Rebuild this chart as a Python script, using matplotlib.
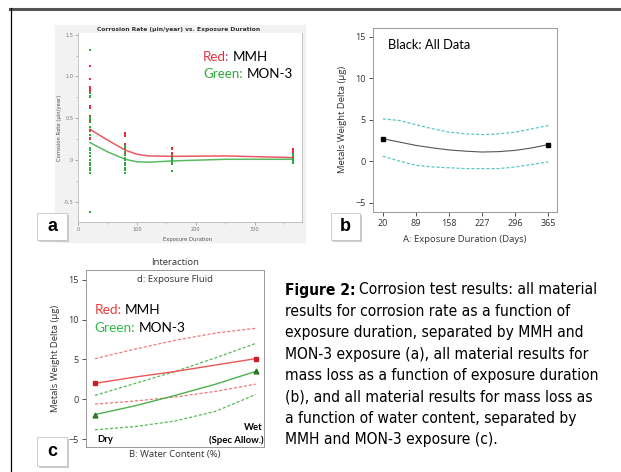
import os
import matplotlib
matplotlib.use("Agg")
import matplotlib.pyplot as plt
from matplotlib.patches import Rectangle
from matplotlib.lines import Line2D
from matplotlib import font_manager

W, H = 621, 472

# ---- panel a : corrosion rate vs exposure duration ----
a_red_x = [20]*14 + [80]*8 + [160]*5 + [365]*6
a_red_y = [1.13, 0.97, 0.87, 0.85, 0.83, 0.65, 0.62, 0.53, 0.51, 0.48, 0.35, 0.30, 0.27, 0.25,
           0.33, 0.31, 0.29, 0.19, 0.16, 0.13, 0.10, 0.08,
           0.15, 0.13, 0.09, 0.06, 0.04,
           0.13, 0.11, 0.08, 0.06, 0.04, 0.02]
a_green_x = [20]*21 + [80]*11 + [160]*7 + [365]*6
a_green_y = [1.32, 0.80, 0.77, 0.75, 0.52, 0.49, 0.45, 0.40, 0.36, 0.30, 0.15, 0.12, 0.08, 0.05,
             0.0, -0.03, -0.06, -0.09, -0.12, -0.16, -0.62,
             0.17, 0.14, 0.10, 0.06, 0.03, 0.0, -0.03, -0.06, -0.09, -0.12, -0.16,
             0.05, 0.03, 0.01, -0.01, -0.03, -0.05, -0.13,
             0.07, 0.05, 0.03, 0.01, -0.01, -0.03]
fit_x = [20, 50, 80, 100, 120, 160, 250, 365]
fit_red = [0.37, 0.24, 0.12, 0.07, 0.05, 0.045, 0.05, 0.03]
fit_green = [0.21, 0.10, 0.01, -0.02, -0.025, -0.01, 0.01, 0.01]

# ---- panel b : weight delta vs duration (all data) ----
b_x = [20, 55, 89, 124, 158, 193, 227, 262, 296, 331, 365]
b_mean = [2.7, 2.3, 1.9, 1.6, 1.35, 1.2, 1.1, 1.15, 1.3, 1.6, 2.0]
b_upper = [5.1, 4.9, 4.4, 3.9, 3.5, 3.3, 3.2, 3.3, 3.5, 3.9, 4.3]
b_lower = [0.6, 0.0, -0.5, -0.7, -0.8, -0.9, -0.9, -0.9, -0.7, -0.4, -0.1]
b_ticks = [20, 89, 158, 227, 296, 365]

# ---- panel c : interaction, water content ----
c_x = [0, 0.25, 0.5, 0.75, 1]
c_red = [2.0, 2.8, 3.5, 4.3, 5.1]
c_red_up = [5.1, 6.3, 7.4, 8.3, 8.9]
c_red_lo = [-0.6, -0.2, 0.3, 1.0, 1.9]
c_green = [-1.9, -0.8, 0.5, 1.9, 3.5]
c_green_up = [0.5, 2.0, 3.5, 5.2, 7.0]
c_green_lo = [-3.8, -3.4, -2.7, -1.5, 0.6]

caption = ["Corrosion test results: all material",
           "results for corrosion rate as a function of",
           "exposure duration, separated by MMH and",
           "MON-3 exposure (a), all material results for",
           "mass loss as a function of exposure duration",
           "(b), and all material results for mass loss as",
           "a function of water content, separated by",
           "MMH and MON-3 exposure (c)."]

RED = "#e4303c"
GREEN = "#2eaa3a"
LEG = ["Lato", "DejaVu Sans"]
UI = ["Open Sans", "DejaVu Sans"]

# caption font: a narrow sans if one is installed, else Liberation Sans
def narrow_fonts():
    out = []
    for f in font_manager.fontManager.ttflist:
        name = (f.name + " " + os.path.basename(f.fname)).lower()
        if not ("narrow" in name or "condensed" in name):
            continue
        if any(k in name for k in ["semi", "extra", "ultra", "mono", "serif", "italic", "oblique"]):
            continue
        if f.style != "normal":
            continue
        w = f.weight if isinstance(f.weight, int) else 400
        score = 0 if "liberation" in name else (1 if "arial" in name else (2 if "noto" in name else 3))
        out.append((score, w, f.fname, f.name))
    return sorted(out)

cands = narrow_fonts()
reg = [c for c in cands if 400 <= c[1] < 600]
if reg:
    cap_reg = font_manager.FontProperties(fname=reg[0][2])
    cap_bold = font_manager.FontProperties(family=reg[0][3], weight="bold", stretch="condensed")
else:
    cap_reg = font_manager.FontProperties(family="Liberation Sans")
    cap_bold = font_manager.FontProperties(family="Liberation Sans", weight="bold")

def rect(x0, y0, x1, y1):
    return [x0 / W, 1 - y1 / H, (x1 - x0) / W, (y1 - y0) / H]

fig = plt.figure(figsize=(W / 100, H / 100), dpi=100)
renderer = fig.canvas.get_renderer()

def ftext(x, y, s, **kw):
    return fig.text(x / W, 1 - y / H, s, **kw)

def seq_text(x, y, pieces, size, family, gap=0.28):
    for s, color in pieces:
        t = ftext(x, y, s, color=color, fontsize=size, family=family,
                  ha="left", va="center")
        x += t.get_window_extent(renderer).width + gap * size * 100 / 72

# frame lines
fig.add_artist(Line2D([10 / W, 1], [1 - 8.5 / H] * 2, color="#555555", lw=2.2))
fig.add_artist(Line2D([11 / W] * 2, [0, 1 - 8 / H], color="black", lw=0.9))

# panel a background
fig.add_artist(Rectangle((55 / W, 1 - 242 / H), 250 / W, 217 / H,
                         transform=fig.transFigure, color="#f2f2f2", zorder=0))

axa = fig.add_axes(rect(78, 33, 302, 222))
axa.scatter(a_red_x, a_red_y, s=4, marker="s", color=RED, lw=0, zorder=3)
axa.scatter(a_green_x, a_green_y, s=4, marker="s", color=GREEN, lw=0, zorder=3)
axa.plot(fit_x, fit_red, color=RED, lw=1.1, alpha=0.8, zorder=4)
axa.plot(fit_x, fit_green, color=GREEN, lw=1.1, alpha=0.8, zorder=4)
axa.set_xlim(0, 380)
axa.set_ylim(-0.74, 1.52)
axa.set_xticks([0, 100, 200, 300])
axa.set_xticks([50, 150, 250, 350], minor=True)
axa.set_yticks([-0.5, 0, 0.5, 1.0, 1.5])
axa.set_yticklabels(["-0.5", "0", "0.5", "1.0", "1.5"])
axa.set_yticks([-0.25, 0.25, 0.75, 1.25], minor=True)
axa.tick_params(labelsize=3.6, colors="#777777", length=2, width=0.4, pad=1.5)
axa.tick_params(which="minor", length=1.5, width=0.4, colors="#999999")
for side in ["left", "bottom", "right"]:
    axa.spines[side].set_color("#bbbbbb")
    axa.spines[side].set_linewidth(0.6)
axa.spines["top"].set_visible(False)
axa.set_ylabel("Corrosion Rate (µin/year)", fontsize=3.8, color="#555555")
axa.yaxis.set_label_coords(-0.071, 0.5)
axa.set_xlabel("Exposure Duration", fontsize=3.8, color="#555555")
axa.xaxis.set_label_coords(0.49, -0.079)
ftext(179, 29.5, "Corrosion Rate (µin/year) vs. Exposure Duration", fontsize=4.3,
      fontweight="bold", ha="center", va="center", color="#333333")
seq_text(203, 57, [("Red:", RED), ("MMH", "black")], 9.6, LEG)
seq_text(203, 74, [("Green:", GREEN), ("MON-3", "black")], 9.6, LEG)

# panel b
dash = (0, (2.5, 1.5))
axb = fig.add_axes(rect(372.7, 27.7, 557, 211.7))
axb.plot(b_x, b_upper, color="#5cc6c6", lw=0.9, ls=dash)
axb.plot(b_x, b_lower, color="#5cc6c6", lw=0.9, ls=dash)
axb.plot(b_x, b_mean, color="#555555", lw=0.8)
axb.plot([b_x[0], b_x[-1]], [b_mean[0], b_mean[-1]], ls="none", marker="s", ms=3.5, color="black")
axb.set_xlim(-1, 383)
axb.set_ylim(-6.1, 16.1)
axb.set_xticks(b_ticks)
axb.set_yticks([-5, 0, 5, 10, 15])
axb.tick_params(labelsize=6.5, colors="#333333", length=3, width=0.6, pad=2)
for s in axb.spines.values():
    s.set_color("#999999")
    s.set_linewidth(0.7)
for lab in axb.get_xticklabels() + axb.get_yticklabels():
    lab.set_family(UI)
axb.set_ylabel("Metals Weight Delta (µg)", fontsize=6.8, family=UI, color="#333333")
axb.yaxis.set_label_coords(-0.141, 0.5)
axb.set_xlabel("A: Exposure Duration (Days)", fontsize=6.8, family=UI, color="#333333")
axb.xaxis.set_label_coords(0.5, -0.125)
ftext(387.7, 45, "Black: All Data", fontsize=9.3, family=LEG, ha="left", va="center")

# panel c
axc = fig.add_axes(rect(85.7, 270, 264.3, 447.3))
axc.plot(c_x, c_red_up, color="#f07a7a", lw=0.9, ls=dash)
axc.plot(c_x, c_red_lo, color="#f07a7a", lw=0.9, ls=dash)
axc.plot(c_x, c_green_up, color="#5abb5a", lw=0.9, ls=dash)
axc.plot(c_x, c_green_lo, color="#5abb5a", lw=0.9, ls=dash)
axc.plot(c_x, c_red, color="#ee5555", lw=1.0)
axc.plot(c_x, c_green, color="#4cb04c", lw=1.0)
axc.plot([c_x[0], c_x[-1]], [c_red[0], c_red[-1]], ls="none", marker="s", ms=3.2, color="#c8202a")
axc.plot([c_x[0], c_x[-1]], [c_green[0], c_green[-1]], ls="none", marker="^", ms=3.5, color="#2a7a2a")
axc.set_xlim(-0.058, 1.054)
axc.set_ylim(-6.0, 16.2)
axc.set_xticks([])
axc.set_yticks([-5, 0, 5, 10, 15])
axc.tick_params(labelsize=6.5, colors="#333333", length=3, width=0.6, pad=2)
for s in axc.spines.values():
    s.set_color("#999999")
    s.set_linewidth(0.7)
for lab in axc.get_yticklabels():
    lab.set_family(UI)
axc.set_ylabel("Metals Weight Delta (µg)", fontsize=6.8, family=UI, color="#333333")
axc.yaxis.set_label_coords(-0.144, 0.5)
axc.set_xlabel("B: Water Content (%)", fontsize=6.8, family=UI, color="#333333", labelpad=2)
ftext(175, 262.7, "Interaction", fontsize=6.8, family=UI, ha="center", va="center", color="#333333")
ftext(175, 279, "d: Exposure Fluid", fontsize=6.8, family=UI, ha="center", va="center", color="#333333")
seq_text(94.3, 310, [("Red:", "#f03a3a"), ("MMH", "black")], 9.8, LEG)
seq_text(94.3, 328.3, [("Green:", "#33bb44"), ("MON-3", "black")], 9.8, LEG)
ftext(97, 440, "Dry", fontsize=6.8, family=LEG, fontweight="bold", ha="left", va="center")
ftext(263, 427.3, "Wet", fontsize=6.8, family=LEG, fontweight="bold", ha="right", va="center")
ftext(264, 440, "(Spec Allow.)", fontsize=6.8, family=LEG, fontweight="bold", ha="right", va="center")

# panel label boxes
for (x0, y0, x1, y1), letter in [((37, 213, 67, 240), "a"), ((331, 213, 360, 240), "b"),
                                 ((37, 437, 67, 466), "c")]:
    fig.add_artist(Rectangle(((x0 + 1.5) / W, 1 - (y1 + 2) / H), (x1 - x0) / W, (y1 - y0) / H,
                             transform=fig.transFigure, color="#cccccc", lw=0, zorder=5))
    fig.add_artist(Rectangle((x0 / W, 1 - y1 / H), (x1 - x0) / W, (y1 - y0) / H,
                             transform=fig.transFigure, facecolor="white", edgecolor="#bbbbbb",
                             lw=0.5, zorder=6))
    ftext((x0 + x1) / 2, (y0 + y1) / 2, letter, fontsize=13, fontweight="bold",
          family=["Liberation Sans", "DejaVu Sans"], ha="center", va="center", zorder=7)

# caption: size chosen so the longest line spans ~312 px, as in the figure
probe = ftext(0, 0, caption[4], fontproperties=cap_reg)
probe.set_fontsize(12.3)
wid = probe.get_window_extent(renderer).width
probe.remove()
cap_size = min(12.8, 12.3 * 312 / wid)

cy = 290
for i, line in enumerate(caption):
    y = cy + i * 21.4
    x = 285
    if i == 0:
        t = ftext(x, y, "Figure 2:", fontproperties=cap_bold, ha="left", va="center")
        t.set_fontsize(cap_size)
        x += t.get_window_extent(renderer).width + cap_size * 0.3
    t = ftext(x, y, line, fontproperties=cap_reg, ha="left", va="center")
    t.set_fontsize(cap_size)

fig.savefig("out.png", dpi=100)
